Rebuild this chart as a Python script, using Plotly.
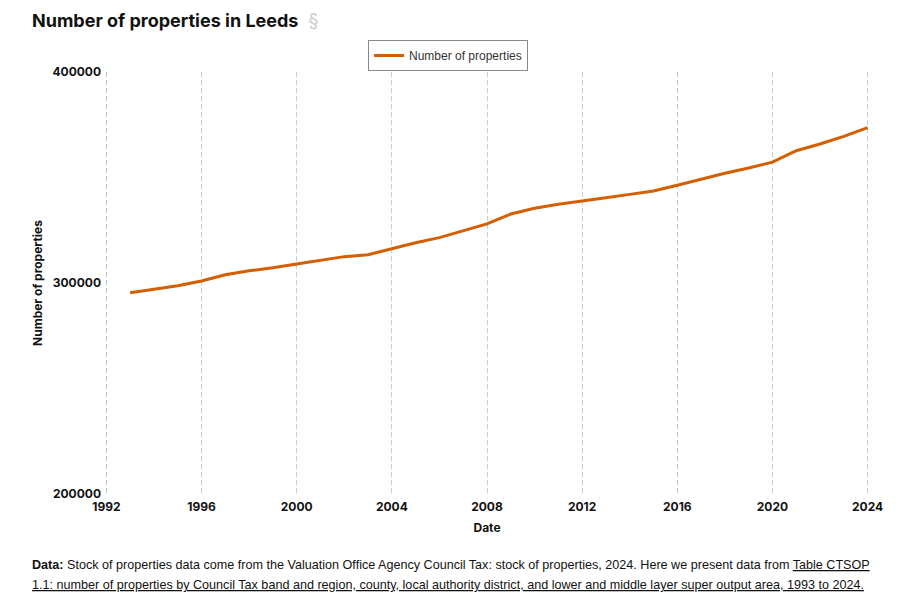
import plotly.graph_objects as go


years = list(range(1993, 2025))
properties = [
    295400, 297100, 298700, 300950, 303900, 305800, 307200, 309000,
    310900, 312500, 313400, 316400, 319100, 321500, 324600, 328000,
    332700, 335400, 337300, 339000, 340400, 342000, 343600, 346300,
    349300, 352000, 354500, 357300, 362700, 365900, 369500, 373600,
]
x_ticks = list(range(1992, 2025, 4))
y_ticks = [200000, 300000, 400000]

LINE_COLOUR = "#d55e00"
TICK_FONT = dict(family="Inter, Lato, sans-serif", size=12, color="#111111", weight="bold")
NOTE_FONT = dict(family="Liberation Sans, Arial, sans-serif", size=12.6, color="#111111")

# page body has an 8px margin, so the figure is drawn 8px in from the window edge
PLOT_H = 422
PLOT_W = 766
LEFT = -96 / PLOT_W + 22 / PLOT_W

fig = go.Figure()

fig.add_trace(
    go.Scatter(
        x=years,
        y=properties,
        mode="lines",
        name="Number of properties",
        line=dict(color=LINE_COLOUR, width=3)
    )
)

fig.update_layout(

    width=916,
    height=605,

    paper_bgcolor="white",
    plot_bgcolor="white",

    font=dict(family="Liberation Sans, Arial, sans-serif", color="#222222"),

    margin=dict(
        l=96,
        r=54,
        t=64,
        b=119
    ),

    showlegend=True,
    legend=dict(
        x=(368 - 104) / PLOT_W,
        y=1.0 + 1 / PLOT_H,
        xanchor="left",
        yanchor="bottom",
        orientation="h",
        bordercolor="#888888",
        borderwidth=1,
        font=dict(family="Liberation Sans, Arial, sans-serif", size=12, color="#333333"),
        itemwidth=30,
    ),

    xaxis=dict(
        range=[1991.9, 2024.1],
        tickvals=x_ticks,
        showgrid=True,
        gridcolor="#cccccc",
        griddash="5px,3px",
        gridwidth=1,
        zeroline=False,
        showline=False,
        ticks="",
        ticklabelstandoff=4,
        tickfont=TICK_FONT,
        title=dict(text="Date", font=TICK_FONT, standoff=10),
    ),

    yaxis=dict(
        range=[200000, 400000],
        tickvals=y_ticks,
        tickformat="d",
        showgrid=False,
        zeroline=False,
        showline=False,
        ticks="",
        ticklabelstandoff=2,
        tickfont=TICK_FONT,
        title=dict(text="Number of properties", font=TICK_FONT, standoff=7),
    ),

    annotations=[
        dict(
            text="<b>Number of properties in Leeds</b>  <span style='color:#cccccc'>§</span>",
            xref="paper", yref="paper",
            x=LEFT, y=1 + 52 / PLOT_H,
            xanchor="left", yanchor="middle",
            showarrow=False,
            font=dict(family="Inter, Lato, sans-serif", size=18, color="#111111"),
        ),
        dict(
            text=(
                "<b>Data:</b> Stock of properties data come from the Valuation Office Agency Council Tax: "
                "stock of properties, 2024. Here we present data from <u>Table CTSOP</u>"
            ),
            xref="paper", yref="paper",
            x=LEFT, y=-71 / PLOT_H,
            xanchor="left", yanchor="middle",
            align="left",
            showarrow=False,
            font=NOTE_FONT,
        ),
        dict(
            text=(
                "<u>1.1: number of properties by Council Tax band and region, county, local authority "
                "district, and lower and middle layer super output area, 1993 to 2024.</u>"
            ),
            xref="paper", yref="paper",
            x=LEFT, y=-91 / PLOT_H,
            xanchor="left", yanchor="middle",
            align="left",
            showarrow=False,
            font=NOTE_FONT,
        ),
    ],

)

fig.write_html("out.html")
